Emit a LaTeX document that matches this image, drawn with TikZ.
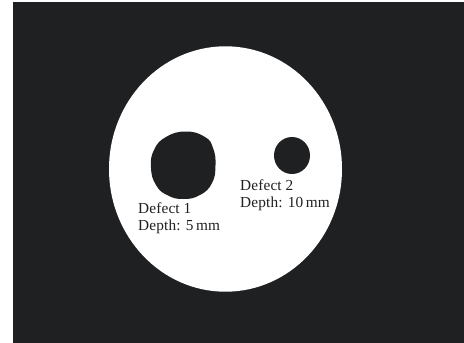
\documentclass[tikz,border=0pt]{standalone}
\usepackage{fontspec}
\setmainfont{Liberation Serif}
\definecolor{bgdark}{RGB}{31,32,34}
\tikzset{
  lbl/.style={text=bgdark, inner sep=0pt, anchor=base west, font=\fontsize{15.3}{16}\selectfont\addfontfeature{LetterSpace=1}},
  hole/.style={fill=bgdark, draw=none}
}
\begin{document}
\begin{tikzpicture}[x=1pt,y=-1pt]
\useasboundingbox (0,0) rectangle (464,343);
\fill[white] (0,0) rectangle (464,343);
\fill[bgdark] (13,2) rectangle (464,343);
% specimen
\fill[white] (225.5,169) ellipse [x radius=116.5, y radius=122.7];
% defect 1
\fill[hole] plot[smooth cycle, tension=0.8] coordinates {(186,131.5) (205,137) (213,148) (215.5,165) (212,183) (200,195) (183,199) (167,195) (156,185) (151,168) (154,150) (166,137)};
% defect 2
\fill[hole] (292,155.5) ellipse [x radius=18, y radius=18.5];
\node[lbl] (d1a) at (138,213.7) {Defect 1};
\node[lbl] (d1b) at (138,230.2) {Depth: 5\,mm};
\node[lbl] (d2a) at (240,190.7) {Defect 2};
\node[lbl] (d2b) at (240,207.2) {Depth: 10\,mm};
\end{tikzpicture}
\end{document}
